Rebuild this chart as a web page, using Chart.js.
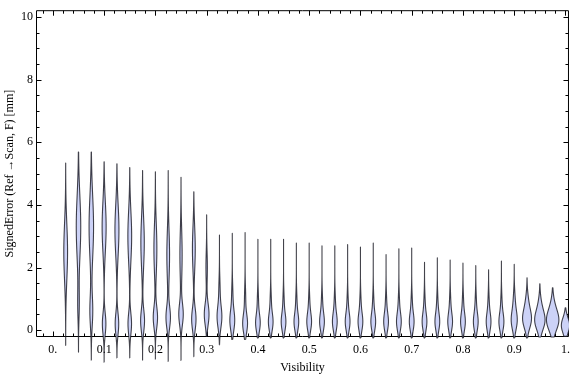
<!DOCTYPE html>
<html><head><meta charset="utf-8">
<script src="https://cdn.jsdelivr.net/npm/chart.js@4/dist/chart.umd.min.js"></script>
<style>html,body{margin:0;padding:0;background:#fff;}#wrap{width:576px;height:377px;}</style>
</head><body><div id="wrap"><canvas id="c" width="576" height="377"></canvas></div>
<script>
// ---- data ----
const visibility = [0.025,0.05,0.075,0.1,0.125,0.15,0.175,0.2,0.225,0.25,0.275,0.3,0.325,0.35,0.375,0.4,0.425,0.45,0.475,0.5,0.525,0.55,0.575,0.6,0.625,0.65,0.675,0.7,0.725,0.75,0.775,0.8,0.825,0.85,0.875,0.9,0.925,0.95,0.975,1.0];
const maxError = [5.34,5.69,5.69,5.38,5.31,5.19,5.10,5.06,5.10,4.88,4.42,3.68,3.04,3.09,3.12,2.90,2.90,2.90,2.78,2.78,2.69,2.69,2.73,2.65,2.78,2.41,2.60,2.62,2.17,2.31,2.24,2.14,2.06,1.93,2.21,2.10,1.67,1.48,1.35,0.71];
const minError = [-0.49,-0.71,-0.96,-1.03,-0.89,-0.89,-0.96,-0.93,-1.00,-0.97,-0.85,-0.20,-0.47,-0.30,-0.30,-0.25,-0.25,-0.25,-0.25,-0.25,-0.25,-0.25,-0.25,-0.25,-0.25,-0.25,-0.25,-0.25,-0.25,-0.25,-0.25,-0.25,-0.25,-0.25,-0.25,-0.25,-0.25,-0.22,-0.22,-0.20];
// upper mode of each distribution: centre, spread, relative density
const upperCenter = [2.5,3.3,3.3,3.3,3.2,3.0,2.8,2.6,2.4,2.4,2.6,2.0,1.3,1.1,1.0,0.9,0.9,0.9,0.9,0.85,0.85,0.85,0.85,0.85,0.85,0.85,0.85,0.85,0.85,0.85,0.85,0.85,0.85,0.85,0.85,0.9,0.9,0.8,0.8,0.5];
const upperSpread = [0.9,1.0,1.0,0.8,0.8,0.8,0.8,0.8,0.8,0.8,0.7,0.5,0.4,0.4,0.4,0.35,0.35,0.35,0.35,0.35,0.35,0.35,0.35,0.35,0.35,0.35,0.35,0.35,0.35,0.35,0.35,0.35,0.35,0.35,0.35,0.35,0.3,0.3,0.3,0.3];
const upperDensity = [0.32,0.38,0.38,0.34,0.34,0.32,0.29,0.25,0.23,0.19,0.24,0.12,0.10,0.10,0.10,0.10,0.10,0.10,0.10,0.10,0.10,0.10,0.10,0.10,0.10,0.10,0.10,0.10,0.10,0.10,0.10,0.10,0.10,0.10,0.10,0.15,0.20,0.20,0.20,0.0];
// lower mode of each distribution
const lowerCenter = [0.5,0.8,0.6,0.2,0.2,0.2,0.3,0.4,0.4,0.5,0.35,0.5,0.42,0.3,0.2,0.22,0.25,0.25,0.25,0.25,0.25,0.25,0.25,0.25,0.25,0.25,0.25,0.25,0.25,0.25,0.25,0.25,0.25,0.25,0.25,0.3,0.35,0.3,0.3,0.15];
const lowerSpread = [0.5,0.5,0.5,0.35,0.35,0.35,0.35,0.35,0.35,0.35,0.35,0.35,0.35,0.33,0.3,0.28,0.28,0.28,0.28,0.28,0.28,0.28,0.28,0.28,0.28,0.28,0.28,0.28,0.28,0.28,0.28,0.28,0.28,0.28,0.28,0.3,0.3,0.3,0.32,0.25];
const lowerDensity = [0.0,0.12,0.24,0.30,0.30,0.30,0.33,0.36,0.37,0.37,0.37,0.40,0.40,0.40,0.40,0.38,0.38,0.38,0.38,0.38,0.38,0.38,0.38,0.38,0.38,0.38,0.38,0.38,0.38,0.38,0.38,0.38,0.38,0.38,0.40,0.48,0.72,0.83,1.00,0.70];

const xMajorTicks = [0,0.1,0.2,0.3,0.4,0.5,0.6,0.7,0.8,0.9,1.0];
const xTickLabels = ["0.","0.1","0.2","0.3","0.4","0.5","0.6","0.7","0.8","0.9","1."];
const yMajorTicks = [0,2,4,6,8,10];
const yTickLabels = ["0","2","4","6","8","10"];

// ---- build violin outlines ----
const CAT_STEP = 0.025;
const HALF_W = 0.46 * CAT_STEP; // half-width for density 1
function dens(i, y) {
  const a = (y - upperCenter[i]) / upperSpread[i];
  const b = (y - lowerCenter[i]) / lowerSpread[i];
  return upperDensity[i] * Math.exp(-0.5 * a * a) + lowerDensity[i] * Math.exp(-0.5 * b * b);
}
const datasets = visibility.map((v, i) => {
  const n = 160, lo = minError[i], hi = maxError[i];
  const right = [];
  for (let k = 0; k <= n; k++) {
    const y = lo + (hi - lo) * k / n;
    right.push({x: v + dens(i, y) * HALF_W, y: y});
  }
  const left = right.slice().reverse().map(p => ({x: 2 * v - p.x, y: p.y}));
  return {
    data: right.concat(left, [right[0]]),
    showLine: true,
    fill: 'shape',
    backgroundColor: 'rgb(204,210,247)',
    borderColor: 'rgba(20,20,30,0.8)',
    borderWidth: 1.1,
    borderJoinStyle: 'round',
    pointRadius: 0,
    pointHoverRadius: 0,
    tension: 0.0001,
    capBezierPoints: false,
    clip: {left: 0, top: 0, right: 0, bottom: false}
  };
});

const serif = {family: '"Liberation Serif", "Times New Roman", serif', size: 12};

const framePlugin = {
  id: 'frame',
  beforeDatasetsDraw(chart) {
    const {ctx, chartArea: a, scales: {x, y}} = chart;
    ctx.save();
    ctx.strokeStyle = '#000';
    ctx.lineWidth = 1;
    const L = a.left + 0.5, R = a.right - 0.5, T = a.top + 0.5, B = a.bottom - 0.5;
    ctx.beginPath();
    ctx.rect(L, T, R - L, B - T);
    const tick = (px, len, horiz) => {
      px = Math.round(px) + 0.5;
      if (horiz) {
        ctx.moveTo(px, B); ctx.lineTo(px, B - len);
        ctx.moveTo(px, T); ctx.lineTo(px, T + len);
      } else {
        ctx.moveTo(L, px); ctx.lineTo(L + len, px);
        ctx.moveTo(R, px); ctx.lineTo(R - len, px);
      }
    };
    for (let k = -1; k <= 50; k++) {
      const v = k * 0.02;
      if (v < x.min || v > x.max) continue;
      tick(x.getPixelForValue(v), k % 5 === 0 ? 5 : 3, true);
    }
    for (let k = 0; k <= 20; k++) {
      const v = k * 0.5;
      if (v < y.min || v > y.max) continue;
      tick(y.getPixelForValue(v), k % 4 === 0 ? 5 : 3, false);
    }
    ctx.stroke();
    ctx.restore();
  }
};

new Chart(document.getElementById('c'), {
  type: 'scatter',
  data: {datasets},
  options: {
    responsive: false,
    animation: false,
    devicePixelRatio: 1,
    layout: {padding: {left: 0, right: 2, top: 4, bottom: 0}},
    plugins: {legend: {display: false}, tooltip: {enabled: false}},
    events: [],
    scales: {
      x: {
        type: 'linear', min: -0.0329, max: 1.0068,
        grid: {display: false, drawTicks: false},
        border: {display: false},
        afterBuildTicks: s => { s.ticks = xMajorTicks.map(v => ({value: v})); },
        afterFit: s => { s.height = 40; },
        ticks: {autoSkip: false, maxRotation: 0, padding: 6, font: serif, color: '#000',
                callback: (val, idx) => xTickLabels[idx]},
        title: {display: true, text: 'Visibility', font: serif, color: '#000', padding: {top: 0, bottom: 2}}
      },
      y: {
        type: 'linear', min: -0.22, max: 10.22,
        grid: {display: false, drawTicks: false},
        border: {display: false},
        afterBuildTicks: s => { s.ticks = yMajorTicks.map(v => ({value: v})); },
        afterFit: s => { s.width = 36; },
        ticks: {autoSkip: false, padding: 3, font: serif, color: '#000',
                callback: (val, idx) => yTickLabels[idx]},
        title: {display: true, text: 'SignedError (Ref \u2192Scan, F) [mm]', font: serif, color: '#000', padding: {top: 3, bottom: 0}}
      }
    }
  },
  plugins: [framePlugin]
});
</script>
</body></html>
